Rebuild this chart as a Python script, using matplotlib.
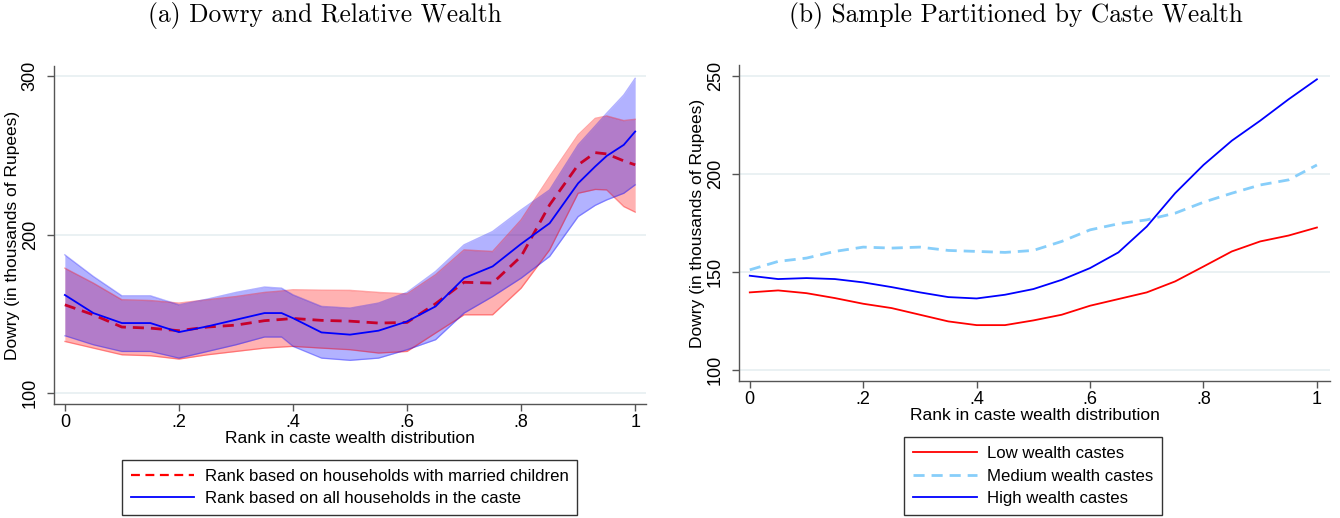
import matplotlib
matplotlib.use('Agg')
import matplotlib.pyplot as plt
import numpy as np

plt.rcParams['font.family'] = ['Liberation Sans', 'DejaVu Sans']
plt.rcParams['font.size'] = 12

# (a) smoothed dowry by rank, with confidence bands
rank_a = [0, .05, .1, .15, .2, .25, .3, .35, .38, .4, .45, .5, .55, .6, .65,
          .7, .75, .8, .85, .9, .93, .95, .98, 1]
married = [155.8, 149.5, 141.8, 141.1, 139.5, 141.8, 143.0, 145.8, 146.6, 147.2,
           146.0, 145.5, 144.3, 144.7, 156.5, 170.0, 169.5, 186.3, 218.8, 244.0,
           251.7, 250.9, 246.5, 244.0]
married_hi = [178.9, 169.5, 159.0, 158.5, 156.9, 159.0, 161.0, 163.6, 164.5, 165.3,
              165.0, 164.9, 163.6, 162.7, 174.7, 190.4, 189.4, 209.3, 236.6, 262.9,
              273.3, 274.8, 271.9, 272.7]
married_lo = [132.7, 128.5, 124.3, 123.7, 121.6, 124.3, 126.4, 128.5, 129.2, 129.6,
              128.5, 127.5, 125.4, 126.4, 138.0, 149.5, 149.5, 166.3, 190.4, 226.1,
              228.5, 228.2, 217.7, 214.2]
allhh = [162.0, 150.6, 144.3, 144.3, 138.6, 142.2, 146.4, 150.6, 150.6, 147.4,
         138.4, 137.0, 139.5, 145.3, 154.8, 172.6, 180.0, 194.2, 207.2, 232.4,
         243.0, 249.6, 256.6, 265.0]
allhh_hi = [187.3, 173.7, 161.5, 161.5, 155.8, 159.4, 163.6, 167.0, 166.3, 162.1,
            154.8, 153.7, 156.9, 163.6, 176.8, 193.6, 202.0, 215.6, 228.2, 256.6,
            268.5, 276.5, 288.0, 298.5]
allhh_lo = [136.3, 130.6, 126.4, 126.4, 122.2, 126.4, 130.6, 135.5, 135.5, 129.6,
            122.2, 120.8, 122.2, 127.5, 133.8, 150.6, 161.0, 172.6, 186.3, 211.4,
            218.5, 221.9, 226.1, 231.4]

# (b) dowry by rank, split by caste wealth group
rank_b = [0, .05, .1, .15, .2, .25, .3, .35, .4, .45, .5, .55, .6, .65, .7,
          .75, .8, .85, .9, .95, 1]
low_w = [139.6, 140.6, 139.2, 136.7, 133.8, 131.6, 128.2, 124.8, 122.9, 122.9,
         125.3, 128.2, 132.8, 136.2, 139.6, 145.2, 152.8, 160.5, 165.6, 168.6, 172.7]
med_w = [151.1, 155.4, 157.1, 160.5, 162.7, 162.2, 162.7, 161.0, 160.5, 160.0,
         161.0, 165.6, 171.5, 174.6, 176.6, 180.0, 185.6, 190.2, 194.4, 197.0, 204.6]
high_w = [148.1, 146.4, 146.9, 146.4, 144.7, 142.3, 139.6, 137.2, 136.5, 138.4,
          141.3, 146.0, 152.0, 160.0, 173.2, 190.2, 204.6, 217.0, 227.2, 238.1, 248.3]

xticks = [0, .2, .4, .6, .8, 1]
xtick_labels = ['0', '.2', '.4', '.6', '.8', '1']

fig = plt.figure(figsize=(13.4, 5.18), dpi=100)
ax1 = fig.add_axes([0.0403, 0.2201, 0.4418, 0.6525])
ax2 = fig.add_axes([0.5515, 0.2645, 0.4410, 0.6100])

grid_col = '#e6eff1'
spine_col = '#555555'


def style_axes(ax, yticks):
    for s in ['top', 'right']:
        ax.spines[s].set_visible(False)
    for s in ['left', 'bottom']:
        ax.spines[s].set_color(spine_col)
        ax.spines[s].set_linewidth(1.0)
    ax.set_xticks(xticks)
    ax.set_xticklabels(xtick_labels)
    ax.set_yticks(yticks)
    ax.set_yticklabels([str(v) for v in yticks], rotation=90, va='center')
    ax.tick_params(axis='both', colors=spine_col, labelcolor='black',
                   labelsize=13, length=5, width=1)
    ax.tick_params(axis='x', pad=2.5)
    ax.tick_params(axis='y', pad=6)
    ax.grid(axis='y', color=grid_col, linewidth=1.2)
    ax.set_axisbelow(True)
    ax.set_xlabel('Rank in caste wealth distribution', fontsize=12.5, labelpad=0)
    ax.set_ylabel('Dowry (in thousands of Rupees)', fontsize=12.5, labelpad=1)


# panel (a)
ax1.fill_between(rank_a, married_lo, married_hi, color='red', alpha=0.3,
                 linewidth=0)
ax1.plot(rank_a, married_hi, color='red', alpha=0.35, lw=1)
ax1.plot(rank_a, married_lo, color='red', alpha=0.35, lw=1)
l1, = ax1.plot(rank_a, married, color='#c8002a', ls=(0, (4, 2.5)), lw=2,
               label='Rank based on households with married children')
ax1.fill_between(rank_a, allhh_lo, allhh_hi, color='blue', alpha=0.3,
                 linewidth=0)
ax1.plot(rank_a, allhh_hi, color='blue', alpha=0.3, lw=1)
ax1.plot(rank_a, allhh_lo, color='blue', alpha=0.3, lw=1)
l2, = ax1.plot(rank_a, allhh, color='blue', lw=1.3,
               label='Rank based on all households in the caste')
ax1.set_xlim(-0.019, 1.019)
ax1.set_ylim(93.3, 306.3)
style_axes(ax1, [100, 200, 300])

h1 = [plt.Line2D([], [], color='red', ls=(0, (4, 2.5)), lw=1.6), l2]
fig.legend(h1, [l1.get_label(), l2.get_label()], loc='center',
           bbox_to_anchor=(0.2608, 0.0589), fontsize=12.1, frameon=True,
           fancybox=False, edgecolor='black', handlelength=3.8,
           borderpad=0.5, labelspacing=0.45, handletextpad=0.6,
           borderaxespad=0)

# panel (b)
ax2.plot(rank_b, low_w, color='red', lw=1.3, label='Low wealth castes')
ax2.plot(rank_b, med_w, color='#87cefa', lw=2, ls=(0, (4, 2.5)),
         label='Medium wealth castes')
ax2.plot(rank_b, high_w, color='blue', lw=1.3, label='High wealth castes')
ax2.set_xlim(-0.019, 1.023)
ax2.set_ylim(94.4, 255.6)
style_axes(ax2, [100, 150, 200, 250])

fig.legend(*ax2.get_legend_handles_labels(), loc='center',
           bbox_to_anchor=(0.771, 0.081), fontsize=12.1, frameon=True,
           fancybox=False, edgecolor='black', handlelength=3.8,
           borderpad=0.55, labelspacing=0.45, handletextpad=0.6,
           borderaxespad=0)

fig.text(0.2425, 0.971, '(a) Dowry and Relative Wealth', family='cmr10',
         fontsize=18.3, ha='center', va='center')
fig.text(0.758, 0.971, '(b) Sample Partitioned by Caste Wealth', family='cmr10',
         fontsize=18.3, ha='center', va='center')

fig.savefig('out.png', dpi=100)
